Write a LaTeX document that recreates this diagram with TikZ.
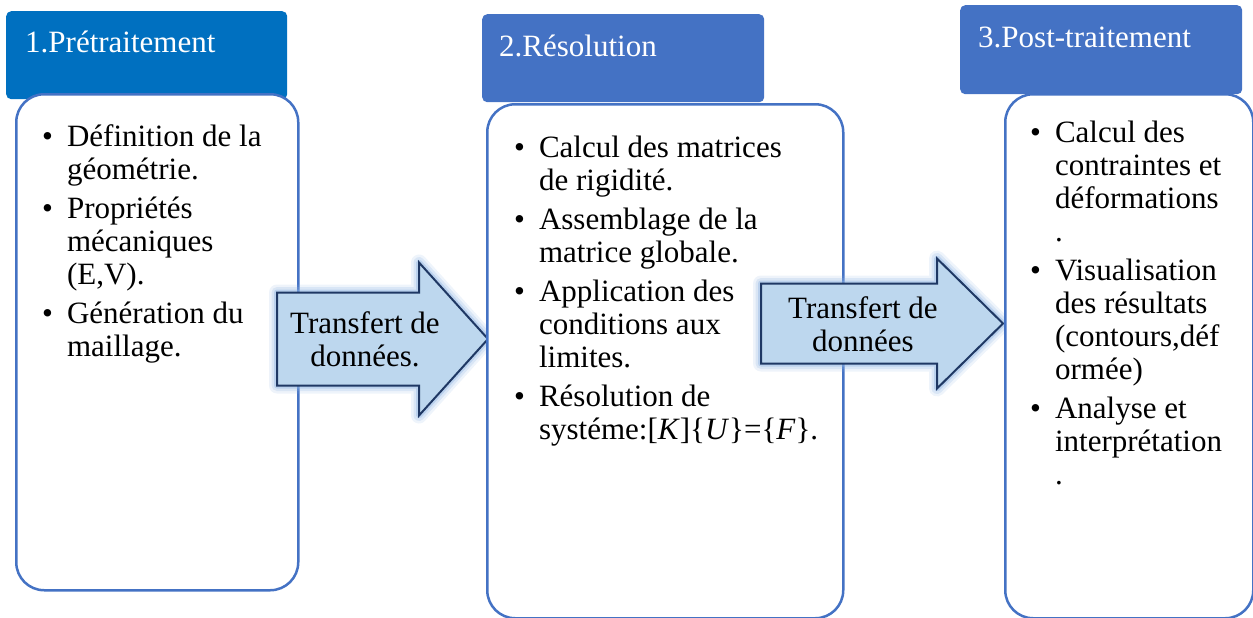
\documentclass[tikz,border=0pt]{standalone}
\usepackage{fontspec}
\setmainfont{Liberation Serif}
\definecolor{hdblue}{HTML}{0070C0}
\definecolor{accblue}{HTML}{4472C4}
\definecolor{arrfill}{HTML}{BDD7EE}
\definecolor{arrline}{HTML}{1F3864}
\definecolor{glowblue}{HTML}{8FB4E3}
\tikzset{txt/.style={font=\fontsize{31}{33}\selectfont, inner sep=0pt},
  header/.style={fill=#1, rounded corners=5pt, anchor=north west, inner sep=0pt},
  bodybox/.style={draw=accblue, fill=white, line width=2.5pt, rounded corners=28pt, anchor=north west, inner sep=0pt},
  blockarr/.style={fill=arrfill, draw=arrline, line width=2pt, line join=miter}}
% block arrow: x start, x head, x tip, y centre, half shaft, half head
\newcommand{\blockarrow}[6]{%
  \foreach \w/\o in {16/0.15,11/0.22,6/0.4}
    \draw[glowblue, line width=\w pt, opacity=\o, line join=round] (#1,#4-#5) -- (#2,#4-#5) -- (#2,#4-#6) -- (#3,#4) -- (#2,#4+#6) -- (#2,#4+#5) -- (#1,#4+#5) -- cycle;
  \filldraw[blockarr] (#1,#4-#5) -- (#2,#4-#5) -- (#2,#4-#6) -- (#3,#4) -- (#2,#4+#6) -- (#2,#4+#5) -- (#1,#4+#5) -- cycle;}

\begin{document}
\begin{tikzpicture}[x=1pt, y=-1pt]
  \useasboundingbox (0,0) rectangle (1253,618);
  % step 1
  \node[header=hdblue, minimum width=281pt, minimum height=88pt] (hdPre) at (6,11) {};
  \node[bodybox, minimum width=282pt, minimum height=496pt] (bdPre) at (15,93) {};
  % step 2
  \node[header=accblue, minimum width=282pt, minimum height=88pt] (hdRes) at (482,14) {};
  \blockarrow{277}{419}{488}{339}{46.5}{76.5}
  \node[bodybox, minimum width=356pt, minimum height=514pt] (bdRes) at (486,103) {};
  % step 3
  \node[header=accblue, minimum width=282pt, minimum height=89pt] (hdPost) at (960,5) {};
  \blockarrow{761}{937}{1003}{323.5}{40}{65}
  \node[bodybox, minimum width=248pt, minimum height=524pt] (bdPost) at (1004,93) {};

  \node[txt, text=white, anchor=base west] (tPre) at (25,53) {1.Prétraitement};
  \node[txt, text=white, anchor=base west] (tRes) at (499,57) {2.Résolution};
  \node[txt, text=white, anchor=base west] (tPost) at (978,48) {3.Post-traitement};

  \node[txt, align=center] (trA) at (365,339) {Transfert de\\données.};
  \node[txt, align=center] (trB) at (863,324) {Transfert de\\données};

  \node[txt, anchor=north west] (lPre) at (42,123) {\begin{tabular}{@{}l@{\hspace{14pt}}l@{}}
    \textbullet & Définition de la\\
     & géométrie.\\[6pt]
    \textbullet & Propriétés\\
     & mécaniques\\
     & (E,V).\\[6pt]
    \textbullet & Génération du\\
     & maillage.
  \end{tabular}};
  \node[txt, anchor=north west] (lRes) at (514,134) {\begin{tabular}{@{}l@{\hspace{14pt}}l@{}}
    \textbullet & Calcul des matrices\\
     & de rigidité.\\[6pt]
    \textbullet & Assemblage de la\\
     & matrice globale.\\[6pt]
    \textbullet & Application des\\
     & conditions aux\\
     & limites.\\[6pt]
    \textbullet & Résolution de\\
     & systéme:[\textit{K}]\{\textit{U}\}=\{\textit{F}\}.
  \end{tabular}};
  \node[txt, anchor=north west] (lPost) at (1030,119) {\begin{tabular}{@{}l@{\hspace{14pt}}l@{}}
    \textbullet & Calcul des\\
     & contraintes et\\
     & déformations\\
     & .\\[6pt]
    \textbullet & Visualisation\\
     & des résultats\\
     & (contours,déf\\
     & ormée)\\[6pt]
    \textbullet & Analyse et\\
     & interprétation\\
     & .
  \end{tabular}};
\end{tikzpicture}
\end{document}
